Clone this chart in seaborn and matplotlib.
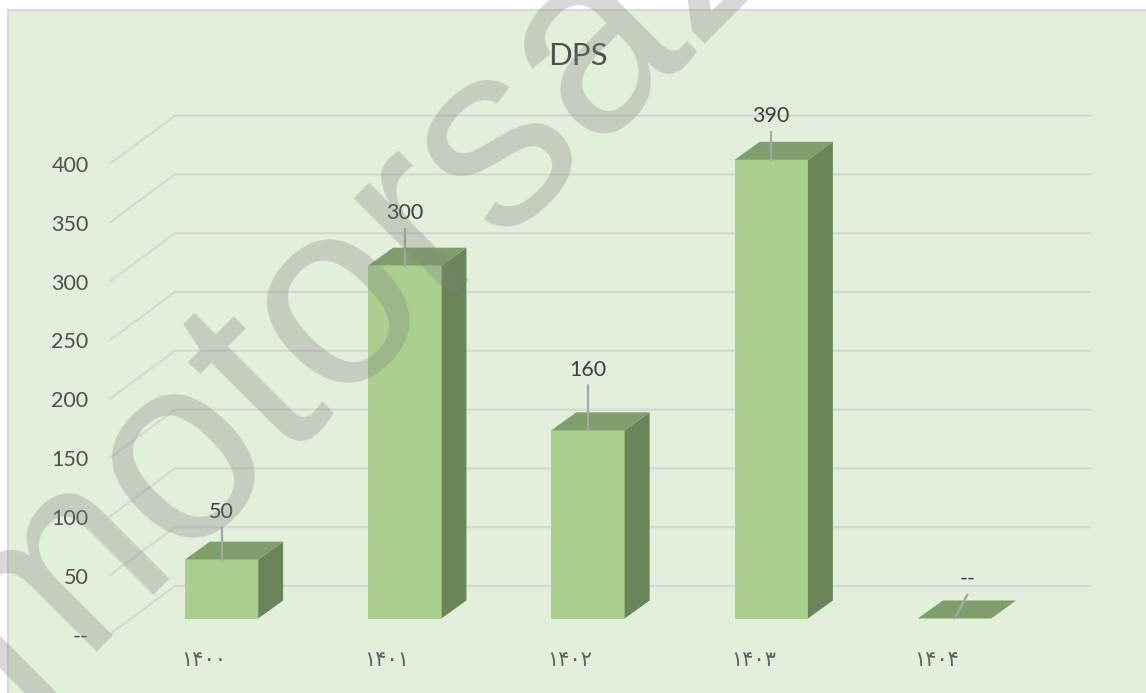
import matplotlib
matplotlib.use("Agg")
import matplotlib.pyplot as plt
from matplotlib.patches import Polygon, Rectangle
import seaborn as sns

years = ["۱۴۰۰", "۱۴۰۱", "۱۴۰۲", "۱۴۰۳", "۱۴۰۴"]
dps = [50, 300, 160, 390, 0]
bar_labels = ["50", "300", "160", "390", "--"]
y_ticks = [0, 50, 100, 150, 200, 250, 300, 350, 400]
y_tick_labels = ["--", "50", "100", "150", "200", "250", "300", "350", "400"]

# pixel scale of the picture, one category / one unit
PX_X = 183.25
PX_Y = 1.176
W, H = 1146, 693

sns.set_theme(style="white")
plt.rcParams["font.family"] = ["Lato", "DejaVu Sans"]


def dx(px):
    return px / PX_X


def dy(px):
    return px / PX_Y


fig = plt.figure(figsize=(W / 100, H / 100), dpi=100, facecolor="white")
ax = fig.add_axes([0, 0, 1, 1])

sns.barplot(x=years, y=dps, color="#A9D08E", saturation=1, width=0.4, linewidth=0, ax=ax, zorder=3)

x_left = -221.5 / PX_X
y_top = 618.5 / PX_Y
y_bottom = y_top - H / PX_Y
ax.set_xlim(x_left, x_left + W / PX_X)
ax.set_ylim(y_bottom, y_top)
ax.axis("off")

ax.add_patch(Rectangle((x_left + dx(8), y_bottom - 5), 10, y_top - y_bottom + 5 - dy(9.5),
                       facecolor="#E2EFDA", edgecolor="#D9D9D9", lw=1.5, zorder=0))

# back wall and side wall grid
wall_x0 = x_left + dx(110)
wall_x1 = x_left + dx(175)
wall_x2 = x_left + dx(1090)
for t, lab in zip(y_ticks, y_tick_labels):
    back = t + dy(32.5)
    ax.plot([wall_x0, wall_x1, wall_x2], [back - dy(48), back, back],
            color="#D6D8D4", lw=1.6, zorder=1, solid_joinstyle="miter")
    ax.text(x_left + dx(88.5), back - dy(50.5), lab, ha="right", va="center",
            fontsize=15.5, color="#505050", zorder=5)

# side and top faces of the bars
half = 0.2
depth_x, depth_y = dx(25), dy(18)
lifts = [32, 37, 45, 28, 24]
lean = [0, 0, 0, 0, 13]
for i, v in enumerate(dps):
    ax.add_patch(Polygon([(i + half, 0), (i + half + depth_x, depth_y),
                          (i + half + depth_x, v + depth_y), (i + half, v)],
                         facecolor="#6A8558", edgecolor="none", zorder=3))
    ax.add_patch(Polygon([(i - half, v), (i - half + depth_x, v + depth_y),
                          (i + half + depth_x, v + depth_y), (i + half, v)],
                         facecolor="#7F9E6B", edgecolor="none", zorder=3))
    ax.plot([i, i + dx(lean[i])], [v, v + dy(lifts[i])], color="#A6A6A6", lw=1.6, zorder=4)
    ax.text(i + dx(lean[i]), v + dy(lifts[i] + 15.5), bar_labels[i], ha="center", va="center",
            fontsize=15.5, color="#404040", zorder=5)
    ax.text(i - dx(18), -dy(41.5), years[i], ha="center", va="center",
            fontsize=15, color="#606060", family=["DejaVu Sans"], zorder=5)

ax.text(x_left + dx(578), y_top - dy(56), "DPS", ha="center", va="center",
        fontsize=22.5, color="#505050", zorder=5)

# watermark across the chart
ax.text(x_left + dx(22), y_top - dy(709), "motorsaz", rotation=45, rotation_mode="anchor",
        ha="left", va="baseline", fontsize=189, family=["Liberation Sans"], color="#7F7F7F",
        alpha=0.3, zorder=6, clip_on=True)

fig.savefig("out.png", dpi=100, facecolor="white")
